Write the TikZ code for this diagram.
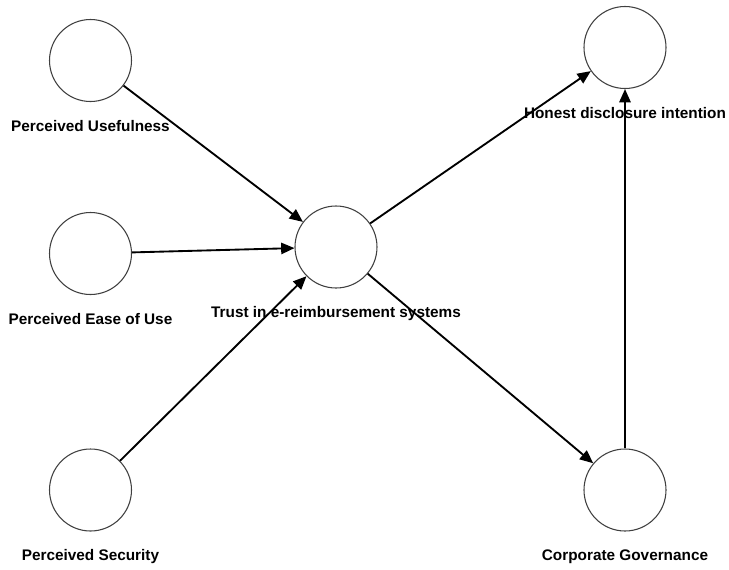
\documentclass[tikz,border=0pt]{standalone}
\usepackage{fontspec}
\setmainfont{Liberation Sans}
\usetikzlibrary{positioning,arrows.meta}

\begin{document}
\begin{tikzpicture}[
    x=0.75pt, y=-0.75pt,
    >={Triangle[length=10pt,width=8.5pt]},
    construct/.style={circle, draw=black!75, line width=0.8pt, minimum size=61.5pt, inner sep=0pt},
    caption/.style={anchor=base, inner sep=0pt, font=\fontsize{11.5}{13}\selectfont\bfseries}
]
\useasboundingbox (0,0) rectangle (729,569);

\node[construct] (pu)    at (90.5,60.5)  {};
\node[construct] (peu)   at (90.5,253.5) {};
\node[construct] (ps)    at (90.5,490)   {};
\node[construct] (trust) at (336,247)    {};
\node[construct] (hdi)   at (625,47.5)   {};
\node[construct] (cg)    at (625,490)    {};

\node[caption] (pul)    at ([yshift=-22pt]pu.south)    {Perceived Usefulness};
\node[caption] (peul)   at ([yshift=-22pt]peu.south)   {Perceived Ease of Use};
\node[caption] (psl)    at ([yshift=-22pt]ps.south)    {Perceived Security};
\node[caption] (trustl) at ([yshift=-22pt]trust.south) {Trust in e-reimbursement systems};
\node[caption] (hdil)   at ([yshift=-22pt]hdi.south)   {Honest disclosure intention};
\node[caption] (cgl)    at ([yshift=-22pt]cg.south)    {Corporate Governance};

\path[->, line width=1.4pt]
(pu)    edge (trust)
(peu)   edge (trust)
(ps)    edge (trust)
(trust) edge (hdi)
(trust) edge (cg)
(cg)    edge (hdi);
\end{tikzpicture}
\end{document}
